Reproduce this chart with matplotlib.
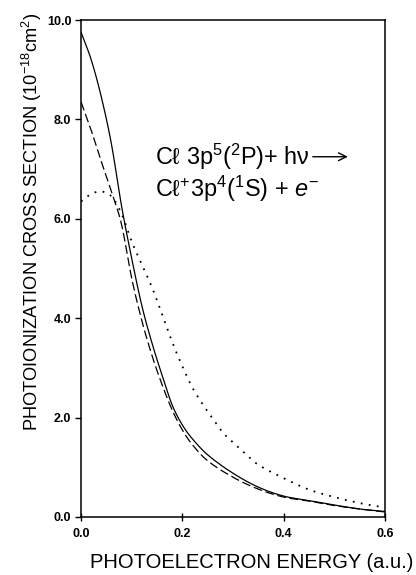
import numpy as np
import matplotlib
matplotlib.use("Agg")
import matplotlib.pyplot as plt

# ---- data ----
energy_solid = [0.00, 0.02, 0.04, 0.06, 0.08, 0.10, 0.12, 0.14, 0.16, 0.18, 0.20, 0.22,
                0.25, 0.30, 0.35, 0.40, 0.45, 0.50, 0.55, 0.60]
sigma_solid = [9.75, 9.20, 8.45, 7.50, 6.25, 5.20, 4.25, 3.50, 2.85, 2.25, 1.85, 1.57,
               1.25, 0.88, 0.60, 0.42, 0.33, 0.24, 0.16, 0.11]

energy_dashed = [0.00, 0.02, 0.04, 0.06, 0.08, 0.10, 0.12, 0.14, 0.16, 0.18, 0.20, 0.22,
                 0.25, 0.30, 0.35, 0.40, 0.45, 0.50, 0.55, 0.60]
sigma_dashed = [8.35, 7.78, 7.15, 6.55, 5.88, 4.80, 3.95, 3.25, 2.66, 2.15, 1.75, 1.45,
                1.13, 0.80, 0.56, 0.40, 0.32, 0.23, 0.16, 0.10]

energy_dotted = [0.00, 0.02, 0.04, 0.06, 0.08, 0.10, 0.12, 0.14, 0.16, 0.18, 0.20, 0.22,
                 0.24, 0.26, 0.28, 0.30, 0.33, 0.35, 0.40, 0.45, 0.50, 0.55, 0.60]
sigma_dotted = [6.35, 6.50, 6.55, 6.45, 6.10, 5.54, 5.08, 4.62, 4.08, 3.52, 3.03, 2.60,
                2.27, 1.98, 1.70, 1.50, 1.22, 1.05, 0.78, 0.55, 0.40, 0.28, 0.19]

xticks = [0.0, 0.2, 0.4, 0.6]
xtick_labels = ["0.0", "0.2", "0.4", "0.6"]
yticks = [0, 2, 4, 6, 8, 10]
ytick_labels = ["0.0", "2.0", "4.0", "6.0", "8.0", "10.0"]

fam = "Liberation Sans"
plt.rcParams['font.family'] = [fam, 'DejaVu Sans']
plt.rcParams['mathtext.fontset'] = 'custom'
plt.rcParams['mathtext.rm'] = fam
plt.rcParams['mathtext.it'] = fam + ':italic'

fig = plt.figure(figsize=(4.16, 5.75), dpi=100)
ax = fig.add_axes([0.195, 0.101, 0.730, 0.864])


def smooth(xs, ys):
    xs = np.asarray(xs); ys = np.asarray(ys)
    xf = np.linspace(xs[0], xs[-1], 400)
    out = []
    n = len(xs)
    for i in range(n - 1):
        x0, x1 = xs[i], xs[i + 1]
        y0, y1 = ys[i], ys[i + 1]
        m0 = (ys[i + 1] - ys[i - 1]) / (xs[i + 1] - xs[i - 1]) if i > 0 else (y1 - y0) / (x1 - x0)
        m1 = (ys[i + 2] - ys[i]) / (xs[i + 2] - xs[i]) if i < n - 2 else (y1 - y0) / (x1 - x0)
        sel = xf[(xf >= x0) & ((xf < x1) | (i == n - 2))]
        t = (sel - x0) / (x1 - x0)
        h = x1 - x0
        h00 = 2 * t**3 - 3 * t**2 + 1
        h10 = t**3 - 2 * t**2 + t
        h01 = -2 * t**3 + 3 * t**2
        h11 = t**3 - t**2
        out.append(h00 * y0 + h10 * h * m0 + h01 * y1 + h11 * h * m1)
    return xf, np.concatenate(out)


xs, ys = smooth(energy_solid, sigma_solid)
ax.plot(xs, ys, color='black', lw=0.9, ls='-')
xs, ys = smooth(energy_dashed, sigma_dashed)
ax.plot(xs, ys, color='black', lw=0.9, ls=(0, (7, 3)))
xs, ys = smooth(energy_dotted, sigma_dotted)
ax.plot(xs, ys, color='black', lw=1.3, ls=(0, (1, 3.5)))

ax.set_xlim(0, 0.6)
ax.set_ylim(0, 10)
ax.set_xticks(xticks)
ax.set_xticklabels(xtick_labels, fontsize=9, fontweight='bold')
ax.set_yticks(yticks)
ax.set_yticklabels(ytick_labels, fontsize=9, fontweight='bold')
ax.tick_params(axis='y', direction='out', length=4, width=1, pad=3)
ax.tick_params(axis='x', direction='inout', length=6, width=1, pad=5)
for s in ax.spines.values():
    s.set_linewidth(1.1)

fig.canvas.draw()
renderer = fig.canvas.get_renderer()


def fit(t, target_px, horizontal=True):
    bb = t.get_window_extent(renderer)
    cur = bb.width if horizontal else bb.height
    t.set_fontsize(t.get_fontsize() * target_px / cur)


xl = fig.text(0.605, 0.006, "PHOTOELECTRON ENERGY (a.u.)", ha='center', va='bottom',
              fontsize=14)
fit(xl, 325)
yl = fig.text(0.078, 0.614, r"PHOTOIONIZATION CROSS SECTION (10$^{-18}$cm$^{2}$)",
              rotation=90, ha='center', va='center', fontsize=14)
fit(yl, 420, horizontal=False)

a1 = ax.text(0.146, 7.25, r"Cℓ 3p$^{5}$($^{2}$P)+ hν", fontsize=15, ha='left', va='center')
fit(a1, 155)
a2 = ax.text(0.146, 6.6, r"Cℓ$^{+}$3p$^{4}$($^{1}$S) + $e^{-}$", fontsize=a1.get_fontsize(),
             ha='left', va='center')

fig.canvas.draw()
bb = a1.get_window_extent(renderer)
yc = ax.transData.transform((0, 7.25))[1]
ax.annotate("", xy=(bb.x1 + 38, yc), xytext=(bb.x1 + 3, yc),
            xycoords='figure pixels', textcoords='figure pixels',
            arrowprops=dict(arrowstyle='->', lw=1.0, color='black',
                            mutation_scale=14, shrinkA=0, shrinkB=0))

fig.savefig("out.png", dpi=100)
